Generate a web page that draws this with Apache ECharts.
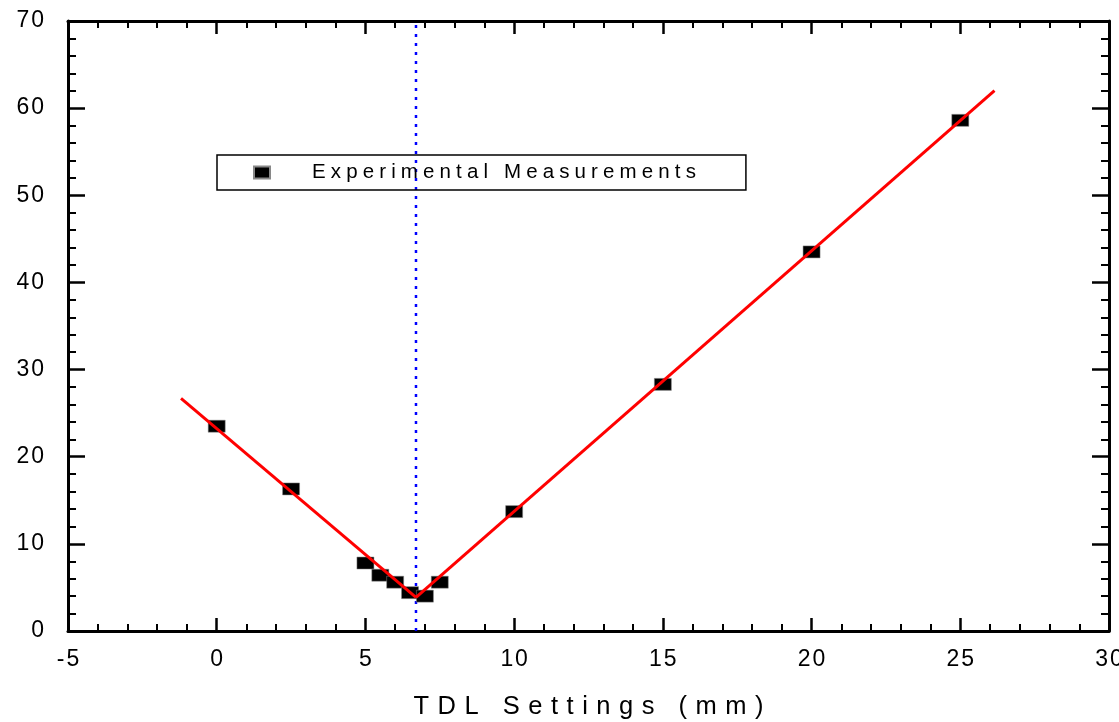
<!DOCTYPE html>
<html>
<head>
<meta charset="UTF-8">
<title>TDL settings</title>
<script src="https://cdn.jsdelivr.net/npm/echarts@6/dist/echarts.min.js"></script>
<style>
  html, body { margin: 0; padding: 0; background: #fff; }
  #chart { width: 1119px; height: 722px; }
</style>
</head>
<body>
<div id="chart"></div>
<script type="text/javascript">
    // measured points
    var tdlX = [0, 2.5, 5, 5.5, 6, 6.5, 7, 7.5, 10, 15, 20, 25];
    var measY = [23.5, 16.3, 7.8, 6.4, 5.6, 4.4, 4.0, 5.6, 13.7, 28.3, 43.5, 58.6];
    // the two fitted lines (end points)
    var leftFitX = [-1.2, 6.7];
    var leftFitY = [26.7, 3.86];
    var rightFitX = [6.7, 26.15];
    var rightFitY = [3.86, 62.0];
    // vertical marker at the minimum
    var minX = 6.7;
    var minLineY = [0, 70];

    var font = '"Liberation Sans", Arial, sans-serif';

    // spread letters out like the original plot
    function spaced(s, sep) {
        return String(s).split('').join(sep);
    }
    function pairs(xs, ys) {
        var out = [];
        for (var i = 0; i < xs.length; i++) out.push([xs[i], ys[i]]);
        return out;
    }

    var myChart = echarts.init(document.getElementById('chart'));

    var tickX = { show: true, inside: true, length: 13, lineStyle: { color: '#000', width: 2.5 } };
    var minorX = { show: true, splitNumber: 5, length: 7, lineStyle: { color: '#000', width: 2 } };
    var tickY = { show: true, inside: true, length: 17, lineStyle: { color: '#000', width: 2.5 } };
    var minorY = { show: true, splitNumber: 5, length: 8, lineStyle: { color: '#000', width: 2 } };
    var axLine = { show: true, onZero: false, lineStyle: { color: '#000', width: 3 } };

    var option = {
        animation: false,
        backgroundColor: '#fff',
        grid: { left: 68, right: 10, top: 21, bottom: 91, outerBoundsMode: 'none', containLabel: false },
        legend: {
            left: 217,
            top: 155,
            orient: 'horizontal',
            padding: [7, 50, 7, 36],
            borderColor: '#000',
            borderWidth: 1.5,
            itemWidth: 16,
            itemHeight: 12,
            data: [{ name: 'Experimental Measurements', icon: 'rect', itemStyle: { color: '#000', opacity: 1 } }],
            formatter: function (name) { return spaced(name, '\u2005'); },
            textStyle: { fontFamily: font, fontSize: 20.5, color: '#000', padding: [0, 0, 0, 37] }
        },
        xAxis: [{
            type: 'value',
            min: -5, max: 30, interval: 5,
            position: 'bottom',
            name: spaced('TDL Settings (mm)', '\u2004'),
            nameLocation: 'middle',
            nameGap: 63,
            nameTextStyle: { fontFamily: font, fontSize: 25.5, color: '#000' },
            axisLine: axLine,
            axisTick: tickX,
            minorTick: minorX,
            splitLine: { show: false },
            axisLabel: {
                margin: 17, fontFamily: font, fontSize: 23, color: '#000',
                formatter: function (v) { return spaced(v, '\u200A'); }
            }
        }, {
            type: 'value',
            min: -5, max: 30, interval: 5,
            position: 'top',
            axisLine: axLine,
            axisTick: tickX,
            minorTick: minorX,
            splitLine: { show: false },
            axisLabel: { show: false }
        }],
        yAxis: [{
            type: 'value',
            min: 0, max: 70, interval: 10,
            position: 'left',
            axisLine: axLine,
            axisTick: tickY,
            minorTick: minorY,
            splitLine: { show: false },
            axisLabel: {
                margin: 24, fontFamily: font, fontSize: 23, color: '#000',
                formatter: function (v) { return spaced(v, '\u200A'); }
            }
        }, {
            type: 'value',
            min: 0, max: 70, interval: 10,
            position: 'right',
            axisLine: axLine,
            axisTick: tickY,
            minorTick: minorY,
            splitLine: { show: false },
            axisLabel: { show: false }
        }],
        series: [
            {
                name: 'Experimental Measurements',
                type: 'scatter',
                symbol: 'rect',
                symbolSize: [17, 12],
                itemStyle: { color: '#000', opacity: 1, borderColor: '#888', borderWidth: 0.5 },
                data: pairs(tdlX, measY),
                z: 2
            },
            {
                name: 'fitLeft',
                type: 'line',
                data: pairs(leftFitX, leftFitY),
                showSymbol: false,
                lineStyle: { color: '#ff0000', width: 3 },
                z: 3
            },
            {
                name: 'fitRight',
                type: 'line',
                data: pairs(rightFitX, rightFitY),
                showSymbol: false,
                lineStyle: { color: '#ff0000', width: 3 },
                z: 3
            },
            {
                name: 'minimum',
                type: 'line',
                data: pairs([minX, minX], minLineY),
                showSymbol: false,
                lineStyle: { color: '#0000ff', width: 2.5, type: [3, 6] },
                z: 1
            }
        ]
    };
    myChart.setOption(option);
</script>
</body>
</html>
